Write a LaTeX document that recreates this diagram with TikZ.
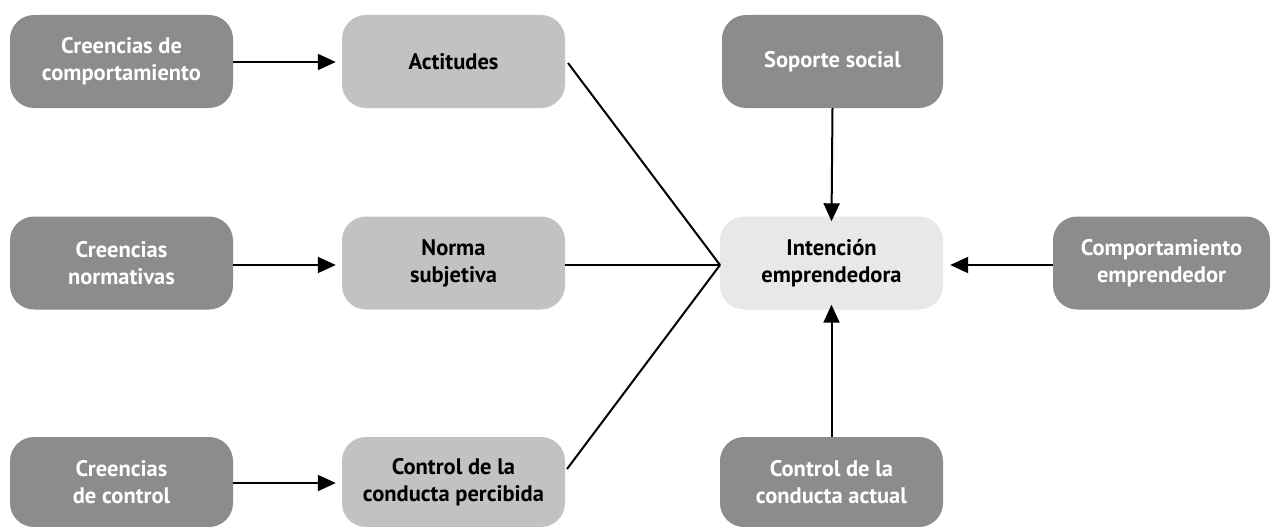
\documentclass[tikz,border=0pt]{standalone}
\usepackage{fontspec}
\setmainfont{PT Sans}
\usetikzlibrary{arrows.meta}
\definecolor{darkbox}{HTML}{8C8C8C}
\definecolor{midbox}{HTML}{C2C2C2}
\definecolor{lightbox}{HTML}{E8E8E8}
\begin{document}
\begin{tikzpicture}[x=1pt,y=-1pt,
  box/.style={rounded corners=24pt, minimum width=223pt, minimum height=93pt, align=center, inner sep=2pt,
    font=\fontsize{22.5}{27}\selectfont\bfseries},
  darkb/.style={box, fill=darkbox, text=white},
  midb/.style={box, fill=midbox, text=black},
  lightb/.style={box, fill=lightbox, text=black},
  arr/.style={line width=2pt, -{Triangle[length=18pt,width=16pt]}},
  ln/.style={line width=2pt}]
\useasboundingbox (0,0) rectangle (1275,527);
\node[darkb] (cc) at (121.5,61.5) {Creencias de\\comportamiento};
\node[midb] (act) at (453.5,61.5) {Actitudes};
\node[darkb, minimum width=221pt] (sop) at (832.5,61.5) {Soporte social};
\node[darkb] (cn) at (121.5,263) {Creencias\\normativas};
\node[midb] (ns) at (453.5,263) {Norma\\subjetiva};
\node[lightb] (ie) at (831.5,263) {Intención\\emprendedora};
\node[darkb, minimum width=217pt] (ce) at (1161.5,263) {Comportamiento\\emprendedor};
\node[darkb, minimum height=90pt] (cr) at (121.5,482) {Creencias\\de control};
\node[midb, minimum height=90pt] (cp) at (453.5,482) {Control de la\\conducta percibida};
\node[darkb, minimum height=90pt] (ca) at (831.5,482) {Control de la\\conducta actual};
\coordinate (j) at (720,265);
\coordinate (a1) at (568,63);
\coordinate (a3) at (567,469);
\draw[arr] (cc.east |- 0,62) -- ([xshift=-6pt]act.west |- 0,62);
\draw[arr] (cn.east |- 0,265) -- ([xshift=-6pt]ns.west |- 0,265);
\draw[arr] (cr.east |- 0,483) -- ([xshift=-6pt]cp.west |- 0,483);
\draw[ln] (a1) -- (j);
\draw[ln] (ns.east |- j) -- (j);
\draw[ln] (a3) -- (j);
\draw[arr] (sop.south) -- ([yshift=-5pt]ie.north);
\draw[arr] (ca.north) -- ([yshift=5pt]ie.south);
\draw[arr] (ce.west |- 0,265) -- ([xshift=7pt]ie.east |- 0,265);
\end{tikzpicture}
\end{document}
